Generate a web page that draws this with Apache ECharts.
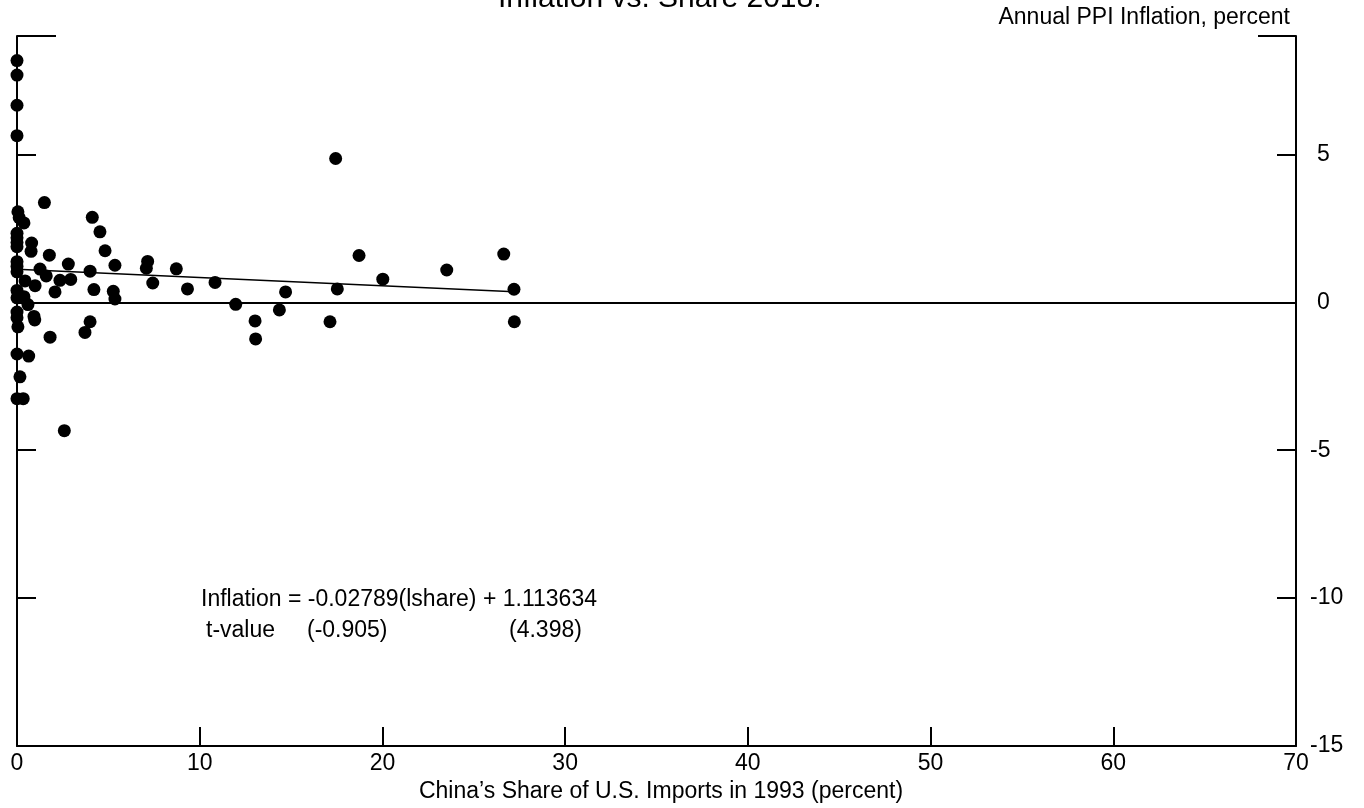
<!DOCTYPE html>
<html>
<head>
<meta charset="utf-8">
<title>Inflation vs. Share 2018</title>
<script src="https://cdn.jsdelivr.net/npm/echarts@6/dist/echarts.min.js"></script>
<style>
  html, body { margin: 0; padding: 0; background: #fff; }
  #chart { width: 1364px; height: 808px; }
</style>
</head>
<body>
<div id="chart"></div>
<script>
// China's share of U.S. imports in 1993 (percent), one entry per industry
const shares = [
  0, 0, 0, 0, 17.44, 1.50, 0.05, 0.12, 0.38, 4.12,
  4.54, 0, 0, 0, 0, 0.80, 0.77, 4.82, 1.77, 0,
  0, 0, 1.26, 2.81, 5.36, 4.00, 1.60, 0.44, 0.99, 2.35,
  2.94, 2.08, 4.21, 5.27, 5.36, 7.15, 7.08, 8.72, 7.43, 9.33,
  10.84, 11.97, 13.03, 13.06, 14.36, 14.70, 17.13, 17.53, 18.72, 20.02,
  23.52, 26.64, 27.20, 27.22, 0, 0, 0.38, 0.60, 0, 0,
  0.05, 0.93, 0.97, 1.81, 4.00, 3.72, 0, 0.64, 0.16, 0,
  0.34, 2.59
];
// Annual PPI inflation (percent) for the same industries
const inflation = [
  8.17, 7.68, 6.66, 5.63, 4.86, 3.37, 3.06, 2.86, 2.68, 2.87,
  2.38, 2.33, 2.18, 2.02, 1.88, 2.00, 1.72, 1.74, 1.59, 1.37,
  1.21, 1.03, 1.12, 1.29, 1.25, 1.05, 0.89, 0.72, 0.56, 0.74,
  0.77, 0.35, 0.43, 0.37, 0.11, 1.38, 1.15, 1.13, 0.65, 0.45,
  0.67, -0.07, -0.63, -1.24, -0.26, 0.35, -0.66, 0.45, 1.58, 0.78,
  1.09, 1.63, 0.44, -0.66, 0.40, 0.15, 0.19, -0.08, -0.33, -0.52,
  -0.83, -0.48, -0.60, -1.18, -0.66, -1.02, -1.75, -1.82, -2.52, -3.26,
  -3.26, -4.34
];

// Fitted regression and its t-values
const slope = -0.02789;
const intercept = 1.113634;
const tSlope = '(-0.905)';
const tIntercept = '(4.398)';

// Axis ranges
const xMin = 0, xMax = 70, xStep = 10;
const yMin = -15, yMax = 9, yStep = 5;

const FONT = "'Liberation Sans', Arial, Helvetica, sans-serif";
const FS = 23;

const points = shares.map((s, i) => [s, inflation[i]]);
const shareMax = Math.max.apply(null, shares);
const fitLine = [[0, intercept], [shareMax, intercept + slope * shareMax]];

const chart = echarts.init(document.getElementById('chart'), null, { renderer: 'canvas' });

const axisLine = { show: true, onZero: false, lineStyle: { color: '#000', width: 2 } };
const tick = { show: true, inside: true, length: 19, lineStyle: { color: '#000', width: 2 } };

chart.setOption({
  animation: false,
  backgroundColor: '#fff',
  title: {
    text: 'Inflation vs. Share 2018:',
    left: 493,
    top: -21,
    textStyle: { fontFamily: FONT, fontSize: 30, fontWeight: 'normal', color: '#000' }
  },
  grid: { left: 17, right: 68, top: 36, bottom: 62, containLabel: false },
  xAxis: {
    type: 'value',
    min: xMin, max: xMax, interval: xStep,
    axisLine: axisLine,
    axisTick: tick,
    splitLine: { show: false },
    axisLabel: { color: '#000', fontFamily: FONT, fontSize: FS, margin: 6 },
    name: 'China\u2019s Share of U.S. Imports in 1993 (percent)',
    nameLocation: 'middle',
    nameGap: 31,
    nameTextStyle: { color: '#000', fontFamily: FONT, fontSize: FS, padding: [0, 0, 0, 9] }
  },
  yAxis: [
    {
      type: 'value', position: 'left',
      min: yMin, max: yMax, interval: yStep,
      axisLine: axisLine,
      axisTick: tick,
      axisLabel: { show: false },
      splitLine: { show: false }
    },
    {
      type: 'value', position: 'right',
      min: yMin, max: yMax, interval: yStep,
      axisLine: axisLine,
      axisTick: tick,
      splitLine: { show: false },
      axisLabel: {
        margin: 14,
        color: '#000',
        fontFamily: FONT, fontSize: FS,
        formatter: function (v) {
          if (v === yMax) return '';
          return v < 0 ? '{n|' + v + '}' : '{p|' + v + '}';
        },
        rich: {
          n: { fontFamily: FONT, fontSize: FS, color: '#000' },
          p: { fontFamily: FONT, fontSize: FS, color: '#000', padding: [0, 0, 0, 7] }
        }
      },
      name: 'Annual PPI Inflation, percent',
      nameLocation: 'end',
      nameGap: 18,
      nameTextStyle: {
        color: '#000', fontFamily: FONT, fontSize: FS,
        align: 'right', verticalAlign: 'middle', padding: [0, 6, 0, 0]
      }
    }
  ],
  graphic: [
    // corner marks along the top of the frame
    { type: 'line', shape: { x1: 17, y1: 36, x2: 56, y2: 36 }, style: { stroke: '#000', lineWidth: 2 } },
    { type: 'line', shape: { x1: 1258, y1: 36, x2: 1296, y2: 36 }, style: { stroke: '#000', lineWidth: 2 } },
    // regression equation
    {
      type: 'text', x: 201, y: 600,
      style: {
        text: 'Inflation = ' + slope + '(lshare) + ' + intercept,
        font: FS + 'px ' + FONT, fill: '#000', align: 'left', verticalAlign: 'middle'
      }
    },
    {
      type: 'text', x: 206, y: 631,
      style: { text: 't-value', font: FS + 'px ' + FONT, fill: '#000', align: 'left', verticalAlign: 'middle' }
    },
    {
      type: 'text', x: 307, y: 631,
      style: { text: tSlope, font: FS + 'px ' + FONT, fill: '#000', align: 'left', verticalAlign: 'middle' }
    },
    {
      type: 'text', x: 509, y: 631,
      style: { text: tIntercept, font: FS + 'px ' + FONT, fill: '#000', align: 'left', verticalAlign: 'middle' }
    }
  ],
  series: [
    {
      name: 'Industries',
      type: 'scatter',
      yAxisIndex: 1,
      data: points,
      symbol: 'circle',
      symbolSize: 13,
      itemStyle: { color: '#000', opacity: 1 },
      silent: true,
      markLine: {
        silent: true,
        symbol: 'none',
        label: { show: false },
        lineStyle: { color: '#000', width: 2, type: 'solid' },
        data: [{ yAxis: 0 }]
      }
    },
    {
      name: 'Fit',
      type: 'line',
      yAxisIndex: 1,
      data: fitLine,
      symbol: 'none',
      lineStyle: { color: '#000', width: 1.4 },
      silent: true
    }
  ]
});
</script>
</body>
</html>
